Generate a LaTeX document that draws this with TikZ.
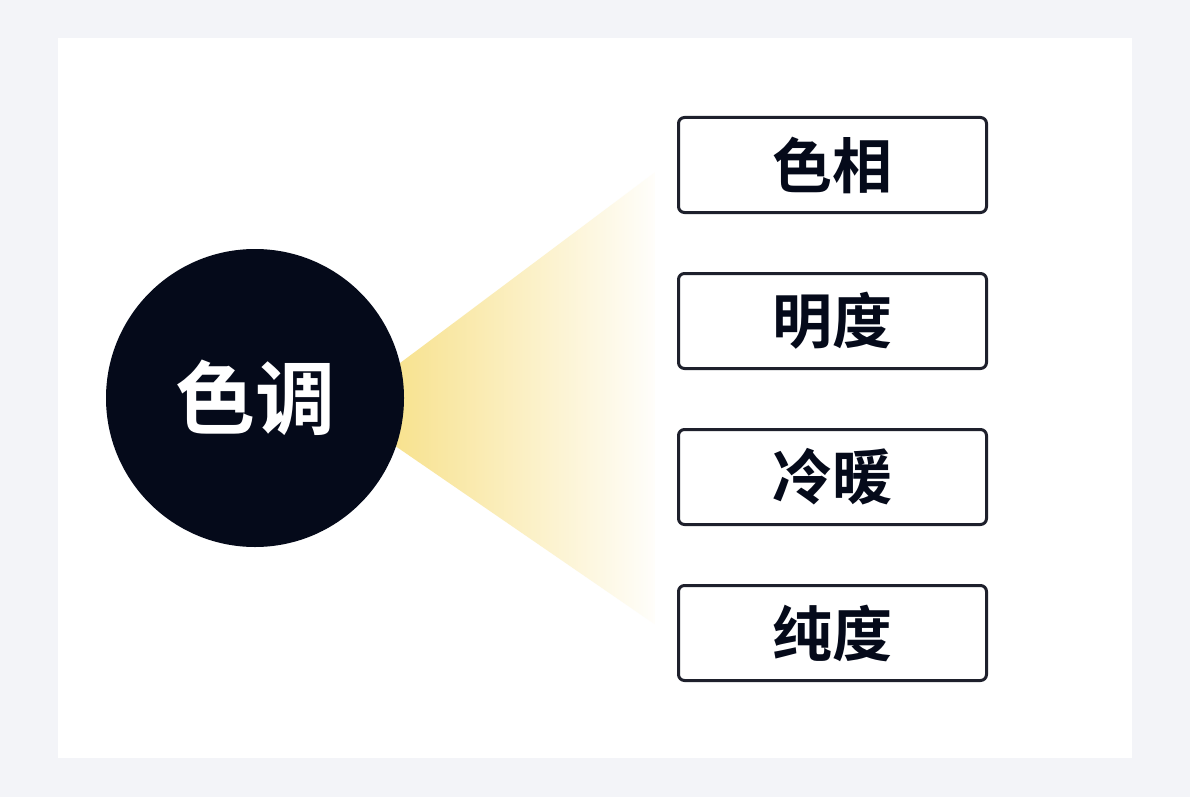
\documentclass[tikz,border=0pt]{standalone}
\usepackage{fontspec}
\newfontfamily\cjk{Noto Sans CJK SC Bold}
\definecolor{bg}{RGB}{243,244,248}
\definecolor{dark}{RGB}{5,10,26}
\definecolor{boxline}{RGB}{30,32,44}
\definecolor{glow}{RGB}{246,220,120}
\begin{document}
\begin{tikzpicture}[x=1pt,y=-1pt,
  itembox/.style={draw=boxline,line width=3pt,rounded corners=6pt,minimum width=308pt,minimum height=95pt,inner sep=0pt,font=\cjk\fontsize{60}{60}\selectfont,text=dark,fill=white},
  hub/.style={circle,fill=dark,minimum size=298pt,inner sep=0pt,text=white,font=\cjk\fontsize{80}{80}\selectfont}]
\useasboundingbox (0,0) rectangle (1190,797);
\fill[bg] (0,0) rectangle (1190,797);
\fill[white] (58,38) rectangle (1132,758);
\shade[left color=glow,right color=white,shading angle=90] (340,408) -- (658,170) -- (666,632) -- cycle;
\fill[white] (655,150) rectangle (670,650);
\node[hub] (c) at (255,398) {色调};
\node[itembox] (b1) at (832.5,165) {色相};
\node[itembox] (b2) at (832.5,321) {明度};
\node[itembox] (b3) at (832.5,477) {冷暖};
\node[itembox] (b4) at (832.5,633) {纯度};
\end{tikzpicture}
\end{document}
